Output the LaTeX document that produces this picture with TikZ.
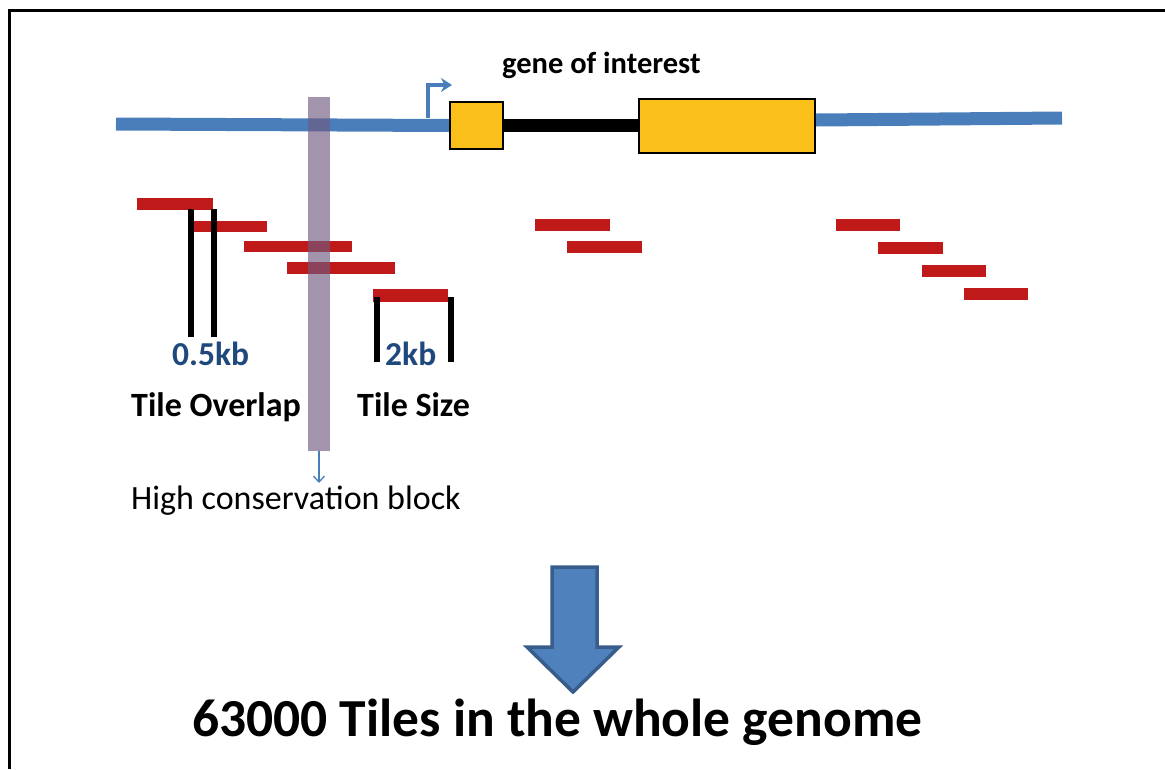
\documentclass[tikz,border=0pt]{standalone}
\usepackage{fontspec}
\setmainfont{Carlito}
\usetikzlibrary{arrows.meta}

\definecolor{dnablue}{RGB}{74,126,187}
\definecolor{exonfill}{RGB}{251,191,26}
\definecolor{tilered}{RGB}{192,25,25}
\definecolor{consv}{RGB}{112,90,128}
\definecolor{kbblue}{RGB}{31,73,125}
\definecolor{arrowfill}{RGB}{79,129,189}
\definecolor{arrowedge}{RGB}{56,93,138}

\tikzset{
  dna/.style={draw=dnablue, line width=13pt},
  intron/.style={draw=black, line width=13pt},
  exon/.style={draw=black, fill=exonfill, line width=2pt, inner sep=0pt, anchor=north west},
  tile/.style={fill=tilered},
  tick/.style={draw=black, line width=6pt},
  kb/.style={font=\bfseries\fontsize{33.5}{38}\selectfont, text=kbblue, anchor=base west, inner sep=0pt},
  lbl/.style={font=\bfseries\fontsize{34}{40}\selectfont, anchor=base west, inner sep=0pt},
}

\begin{document}
\begin{tikzpicture}[x=1pt, y=-1pt]
\useasboundingbox (0,0) rectangle (1165,769);

% frame (top and left edges)
\draw[line width=3pt] (9,769) -- (9,10) -- (1165,10);

% exons
\node[exon, minimum width=53pt, minimum height=47pt] (ex1) at (449,101) {};
\node[exon, minimum width=176pt, minimum height=54pt] (ex2) at (638,98) {};

% genomic line and intron
\coordinate (up) at (116,124);
\coordinate (down) at (1062,118);
\draw[dna] (up) -- (ex1.west);
\draw[intron] (ex1.east) -- (ex2.west |- ex1.east);
\draw[dna] (ex2.east |- 0,120) -- (down);

% transcription start arrow
\coordinate (tss) at (428,118);
\coordinate (tssend) at (452,85);
\draw[draw=dnablue, line width=3.2pt, -{Stealth[length=11pt,width=14pt]}]
  (tss) -- (tss |- tssend) -- (tssend);

\node[font=\bfseries\fontsize{30.5}{36}\selectfont, anchor=base west, inner sep=0pt] (goi) at (502,73) {gene of interest};

% tiles
\fill[tile] (137,198) rectangle (213,210);
\fill[tile] (193,221) rectangle (267,232);
\fill[tile] (244,241) rectangle (352,252);
\fill[tile] (287,262) rectangle (395,274);
\fill[tile] (373,289) rectangle (448,302);
\fill[tile] (535,219) rectangle (610,231);
\fill[tile] (567,241) rectangle (642,253);
\fill[tile] (836,219) rectangle (900,231);
\fill[tile] (878,242) rectangle (943,254);
\fill[tile] (922,265) rectangle (986,277);
\fill[tile] (964,288) rectangle (1028,300);

% overlap and size markers
\draw[tick] (191,209) -- (191,337);
\draw[tick] (214,209) -- (214,337);
\draw[tick] (377,297) -- (377,362);
\draw[tick] (451,297) -- (451,362);

\node[kb] (ovl) at (172,365) {0.5kb};
\node[kb] (sz) at (385,365) {2kb};
\node[lbl] (tovl) at (131,416) {Tile Overlap};
\node[lbl] (tsz) at (357,416) {Tile Size};

% conserved block
\node[fill=consv, fill opacity=0.65, inner sep=0pt, minimum width=22pt, minimum height=354pt, anchor=north] (block) at (319,97) {};
\node[font=\fontsize{34}{40}\selectfont, anchor=base west, inner sep=0pt] (hcb) at (131,509) {High conservation block};
\draw[draw=dnablue, line width=1.3pt, -{Straight Barb[length=6pt,width=11pt]}] (block.south) -- (block.south |- 0,483);

% summary arrow
\draw[fill=arrowfill, draw=arrowedge, line width=3.5pt, line join=miter]
  (552,567) -- (597,567) -- (597,647) -- (619,647) -- (573,692) -- (527,647) -- (552,647) -- cycle;
\node[font=\bfseries\fontsize{53.5}{62}\selectfont, anchor=base west, inner sep=0pt] (total) at (192,736) {63000 Tiles in the whole genome};

\end{tikzpicture}
\end{document}
